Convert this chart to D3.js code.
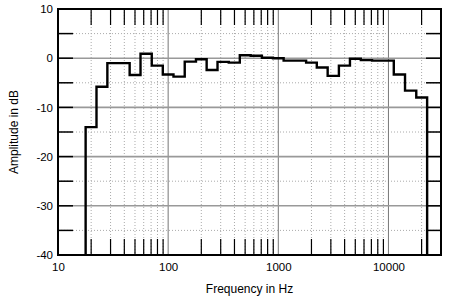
<!DOCTYPE html>
<html lang="en">
<head>
<meta charset="utf-8">
<title>Frequency response</title>
<style>
  body { margin: 0; background: #fff; }
  svg { display: block; font-family: "Liberation Sans", Arial, sans-serif; }
  .tick text { font-size: 11.5px; fill: #000; }
  .label { font-size: 12px; fill: #000; }
</style>
<script src="https://cdnjs.cloudflare.com/ajax/libs/d3/7.8.5/d3.min.js"></script>
</head>
<body>
<div id="chart"></div>
<script>
// 1/3-octave band centres (Hz) and levels (dB)
var bands = [20, 25, 31.5, 40, 50, 63, 80, 100, 125, 160, 200, 250, 315, 400, 500, 630,
             800, 1000, 1250, 1600, 2000, 2500, 3150, 4000, 5000, 6300, 8000, 10000,
             12500, 16000, 20000];
var levels = [-14, -5.8, -1.0, -1.0, -3.4, 0.9, -1.5, -3.3, -3.75, -0.7, -0.2, -2.4, -0.75, -0.9, 0.6, 0.5,
              0.1, 0.0, -0.5, -0.5, -0.9, -1.9, -3.6, -1.5, -0.1, -0.4, -0.5, -0.5,
              -3.3, -6.6, -8.0];
var xTickLabels = [10, 100, 1000, 10000];
var yTickLabels = [10, 0, -10, -20, -30, -40];
var minorFreqs = [20, 30, 40, 50, 60, 70, 80, 90, 200, 300, 400, 500, 600, 700, 800, 900,
                  2000, 3000, 4000, 5000, 6000, 7000, 8000, 9000, 20000];
var decadeFreqs = [100, 1000, 10000];
var majorDb = [0, -10, -20, -30];
var minorDb = [5, -5, -15, -25, -35];

var w = 450, h = 307;
var pLeft = 58, pRight = 441, pTop = 9, pBottom = 255;

var x = d3.scaleLog().domain([10, 30000]).range([pLeft, pRight]);
var y = d3.scaleLinear().domain([-40, 10]).range([pBottom, pTop]);

var svg = d3.select('#chart').append('svg')
    .attr('width', w)
    .attr('height', h);

// dotted minor grid
svg.append('g').selectAll('line')
    .data(minorFreqs)
    .enter().append('line')
    .attr('x1', function(d) { return x(d); })
    .attr('x2', function(d) { return x(d); })
    .attr('y1', pTop).attr('y2', pBottom)
    .attr('stroke', '#aaa')
    .attr('stroke-width', 1)
    .attr('stroke-dasharray', '1,2');

svg.append('g').selectAll('line')
    .data(minorDb)
    .enter().append('line')
    .attr('x1', pLeft).attr('x2', pRight)
    .attr('y1', function(d) { return y(d); })
    .attr('y2', function(d) { return y(d); })
    .attr('stroke', '#aaa')
    .attr('stroke-width', 1)
    .attr('stroke-dasharray', '1,2');

// solid major grid
svg.append('g').selectAll('line')
    .data(decadeFreqs)
    .enter().append('line')
    .attr('x1', function(d) { return x(d); })
    .attr('x2', function(d) { return x(d); })
    .attr('y1', pTop).attr('y2', pBottom)
    .attr('stroke', '#777')
    .attr('stroke-width', 1);

svg.append('g').selectAll('line')
    .data(majorDb)
    .enter().append('line')
    .attr('x1', pLeft).attr('x2', pRight)
    .attr('y1', function(d) { return y(d); })
    .attr('y2', function(d) { return y(d); })
    .attr('stroke', '#999')
    .attr('stroke-width', 1.6);

// inner tick marks, top and bottom
var tickLen = 16;
[[pTop, pTop + tickLen], [pBottom, pBottom - tickLen]].forEach(function(p) {
  svg.append('g').selectAll('line')
      .data(minorFreqs)
      .enter().append('line')
      .attr('x1', function(d) { return x(d); })
      .attr('x2', function(d) { return x(d); })
      .attr('y1', p[0]).attr('y2', p[1])
      .attr('stroke', '#000')
      .attr('stroke-width', 1.2);
});

// inner tick marks, left and right
[[pLeft, pLeft + 15], [pRight, pRight - 15]].forEach(function(p) {
  svg.append('g').selectAll('line')
      .data(majorDb.concat(minorDb))
      .enter().append('line')
      .attr('x1', p[0]).attr('x2', p[1])
      .attr('y1', function(d) { return y(d); })
      .attr('y2', function(d) { return y(d); })
      .attr('stroke', '#000')
      .attr('stroke-width', 1.5);
});

// stepped response line
var pts = [];
bands.forEach(function(c, i) {
  var lo = i === 0 ? c / Math.pow(2, 1 / 6) : Math.sqrt(bands[i - 1] * c);
  var hi = i === bands.length - 1 ? c * Math.pow(2, 1 / 6) : Math.sqrt(bands[i + 1] * c);
  if (i === 0) pts.push([lo, -40]);
  pts.push([lo, levels[i]]);
  pts.push([hi, levels[i]]);
  if (i === bands.length - 1) pts.push([hi, -40]);
});

var line = d3.line()
    .x(function(d) { return x(d[0]); })
    .y(function(d) { return y(d[1]); });

svg.append('path')
    .datum(pts)
    .attr('d', line)
    .attr('fill', 'none')
    .attr('stroke', '#000')
    .attr('stroke-width', 2.4)
    .attr('stroke-linejoin', 'miter');

// frame
svg.append('rect')
    .attr('x', pLeft).attr('y', pTop)
    .attr('width', pRight - pLeft).attr('height', pBottom - pTop)
    .attr('fill', 'none')
    .attr('stroke', '#000')
    .attr('stroke-width', 2);

// tick labels
var xAxis = d3.axisBottom(x)
    .tickValues(xTickLabels)
    .tickFormat(d3.format('d'))
    .tickSize(0)
    .tickPadding(8);
svg.append('g')
    .attr('transform', 'translate(0,' + pBottom + ')')
    .call(xAxis)
    .call(function(g) { g.select('.domain').remove(); });

var yAxis = d3.axisLeft(y)
    .tickValues(yTickLabels)
    .tickFormat(function(d) { return d < 0 ? '-' + Math.abs(d) : d; })
    .tickSize(0)
    .tickPadding(5);
svg.append('g')
    .attr('transform', 'translate(' + pLeft + ',0)')
    .call(yAxis)
    .call(function(g) { g.select('.domain').remove(); });

svg.selectAll('.tick text').style('font-family', '"Liberation Sans", Arial, sans-serif');

// axis titles
svg.append('text')
    .attr('class', 'label')
    .attr('x', (pLeft + pRight) / 2)
    .attr('y', 293)
    .attr('text-anchor', 'middle')
    .text('Frequency in Hz');

svg.append('text')
    .attr('class', 'label')
    .attr('transform', 'translate(18,' + (pTop + pBottom) / 2 + ') rotate(-90)')
    .attr('text-anchor', 'middle')
    .text('Amplitude in dB');
</script>
</body>
</html>
